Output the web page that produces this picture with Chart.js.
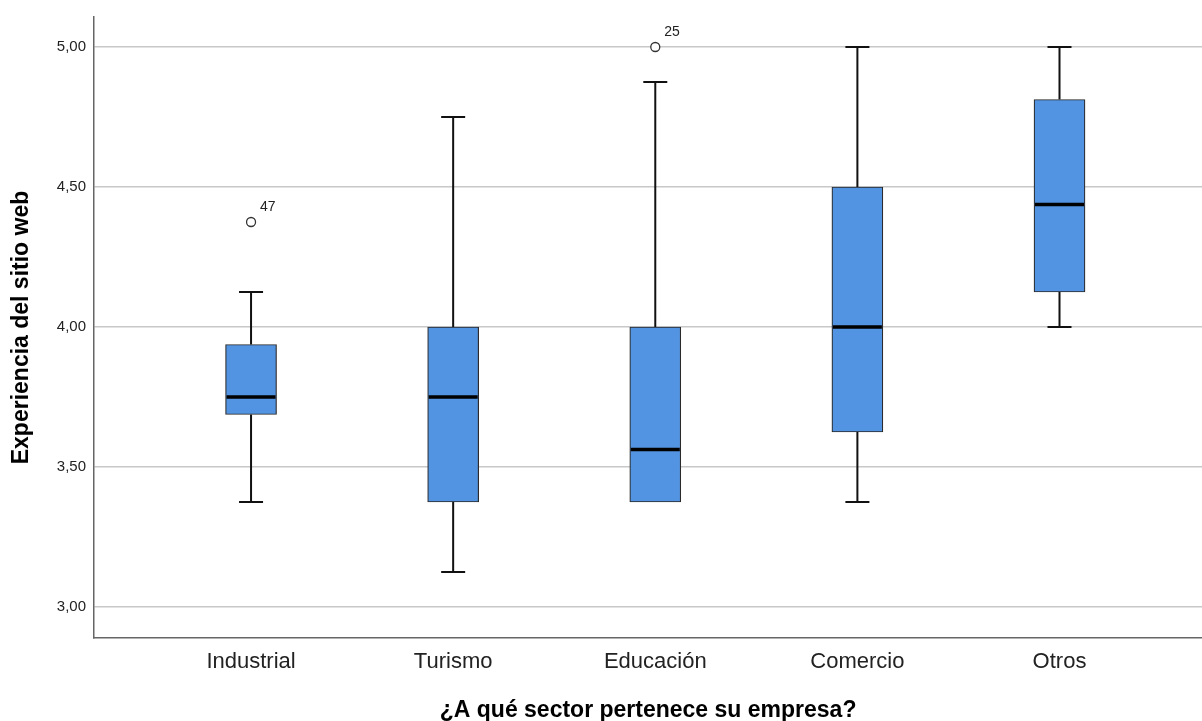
<!DOCTYPE html>
<html>
<head>
<meta charset="utf-8">
<script src="https://cdn.jsdelivr.net/npm/chart.js@4/dist/chart.umd.min.js"></script>
<style>
  html, body { margin: 0; padding: 0; background: #fff; overflow: hidden; }
  #wrap { width: 1202px; height: 721px; overflow: hidden; }
  canvas { display: block; }
</style>
</head>
<body>
<div id="wrap"><canvas id="ChartElem" width="1208" height="721"></canvas></div>
<script>
// box plot values (SPSS style)
var sectors = ["Industrial", "Turismo", "Educación", "Comercio", "Otros"];
var lowerWhisker = [3.375, 3.125, 3.375, 3.375, 4.00];
var q1 = [3.6875, 3.375, 3.375, 3.625, 4.125];
var median = [3.75, 3.75, 3.5625, 4.00, 4.4375];
var q3 = [3.9375, 4.00, 4.00, 4.50, 4.8125];
var upperWhisker = [4.125, 4.75, 4.875, 5.00, 5.00];
var outlierSector = [0, 2];
var outlierValue = [4.375, 5.00];
var outlierCase = ["47", "25"];
var yTicks = [3.0, 3.5, 4.0, 4.5, 5.0];

var BOX_COLOR = "rgb(83,148,226)";
var FONT = "'Liberation Sans', Arial, sans-serif";

function BuildChart() {
    var boxData = [];
    for (let i = 0; i < sectors.length; i++) {
        boxData.push({ x: i, y: [q1[i], q3[i]] });
    }
    var outlierData = [];
    for (let i = 0; i < outlierSector.length; i++) {
        outlierData.push({ x: outlierSector[i], y: outlierValue[i] });
    }

    // whiskers, caps, medians and case labels drawn with the chart's scales
    var boxExtras = {
        id: "boxExtras",
        beforeDatasetsDraw: function (chart) {
            var ctx = chart.ctx;
            var xs = chart.scales.x, ys = chart.scales.y;
            ctx.save();
            ctx.strokeStyle = "#111";
            ctx.lineWidth = 2;
            for (let i = 0; i < sectors.length; i++) {
                var cx = xs.getPixelForValue(i);
                ctx.beginPath();
                ctx.moveTo(cx, ys.getPixelForValue(q3[i]));
                ctx.lineTo(cx, ys.getPixelForValue(upperWhisker[i]));
                ctx.moveTo(cx, ys.getPixelForValue(q1[i]));
                ctx.lineTo(cx, ys.getPixelForValue(lowerWhisker[i]));
                ctx.stroke();
                // caps
                ctx.beginPath();
                var capUp = ys.getPixelForValue(upperWhisker[i]);
                var capLo = ys.getPixelForValue(lowerWhisker[i]);
                ctx.moveTo(cx - 12, capUp); ctx.lineTo(cx + 12, capUp);
                if (lowerWhisker[i] < q1[i]) {
                    ctx.moveTo(cx - 12, capLo); ctx.lineTo(cx + 12, capLo);
                }
                ctx.stroke();
            }
            ctx.restore();
        },
        afterDatasetsDraw: function (chart) {
            var ctx = chart.ctx;
            var xs = chart.scales.x, ys = chart.scales.y;
            var bars = chart.getDatasetMeta(0).data;
            ctx.save();
            ctx.strokeStyle = "#000";
            ctx.lineWidth = 3.5;
            for (let i = 0; i < sectors.length; i++) {
                var half = bars[i].width / 2;
                var cx = xs.getPixelForValue(i);
                var my = ys.getPixelForValue(median[i]);
                ctx.beginPath();
                ctx.moveTo(cx - half + 1, my);
                ctx.lineTo(cx + half - 1, my);
                ctx.stroke();
            }
            ctx.fillStyle = "#222";
            ctx.font = "14px " + FONT;
            ctx.textAlign = "left";
            ctx.textBaseline = "middle";
            for (let i = 0; i < outlierSector.length; i++) {
                var px = xs.getPixelForValue(outlierSector[i]);
                var py = ys.getPixelForValue(outlierValue[i]);
                ctx.fillText(outlierCase[i], px + 9, py - 15);
            }
            ctx.restore();
        }
    };

    var chartContext = document.getElementById("ChartElem").getContext("2d");
    var chart = new Chart(chartContext, {
        type: "bar",
        data: {
            datasets: [
                {
                    type: "bar",
                    data: boxData,
                    backgroundColor: BOX_COLOR,
                    borderColor: "#2a2a2a",
                    borderWidth: 1.2,
                    borderSkipped: false,
                    barThickness: 51,
                    order: 2
                },
                {
                    type: "scatter",
                    data: outlierData,
                    pointStyle: "circle",
                    pointRadius: 4.5,
                    pointBackgroundColor: "#fff",
                    pointBorderColor: "#333",
                    pointBorderWidth: 1.3,
                    order: 1
                }
            ]
        },
        options: {
            responsive: false,
            animation: false,
            layout: { padding: { top: 17, right: 0, left: 0, bottom: 0 } },
            plugins: { legend: { display: false }, tooltip: { enabled: false } },
            scales: {
                x: {
                    type: "linear",
                    offset: false,
                    min: -0.777,
                    max: 4.706,
                    afterBuildTicks: function (scale) {
                        scale.ticks = sectors.map(function (s, i) { return { value: i }; });
                    },
                    afterFit: function (scale) {
                        scale.height = 83;
                        scale.paddingLeft = 0;
                        scale.paddingRight = 0;
                    },
                    ticks: {
                        callback: function (v) { return sectors[v]; },
                        color: "#222",
                        padding: 11,
                        maxRotation: 0,
                        font: { family: FONT, size: 22 }
                    },
                    grid: { display: false, drawTicks: false, offset: false },
                    border: { display: true, color: "#666", width: 1.5 },
                    title: {
                        display: true,
                        text: "¿A qué sector pertenece su empresa?",
                        color: "#000",
                        padding: { top: 0, bottom: -3 },
                        font: { family: FONT, size: 23, weight: "bold" }
                    }
                },
                y: {
                    min: 2.8893,
                    max: 5.1071,
                    afterBuildTicks: function (scale) {
                        scale.ticks = yTicks.map(function (v) { return { value: v }; });
                    },
                    afterFit: function (scale) {
                        scale.width = 94;
                        scale.paddingTop = 0;
                        scale.paddingBottom = 0;
                    },
                    ticks: {
                        callback: function (v) { return v.toFixed(2).replace(".", ","); },
                        color: "#222",
                        padding: 8,
                        font: { family: FONT, size: 15 }
                    },
                    grid: { color: "#c8c8c8", lineWidth: 1.6, drawTicks: false },
                    border: { display: true, color: "#666", width: 1.5 },
                    title: {
                        display: true,
                        text: "Experiencia del sitio web",
                        color: "#000",
                        padding: { top: 8, bottom: 0 },
                        font: { family: FONT, size: 23, weight: "bold" }
                    }
                }
            }
        },
        plugins: [boxExtras]
    });
}

BuildChart();
</script>
</body>
</html>
